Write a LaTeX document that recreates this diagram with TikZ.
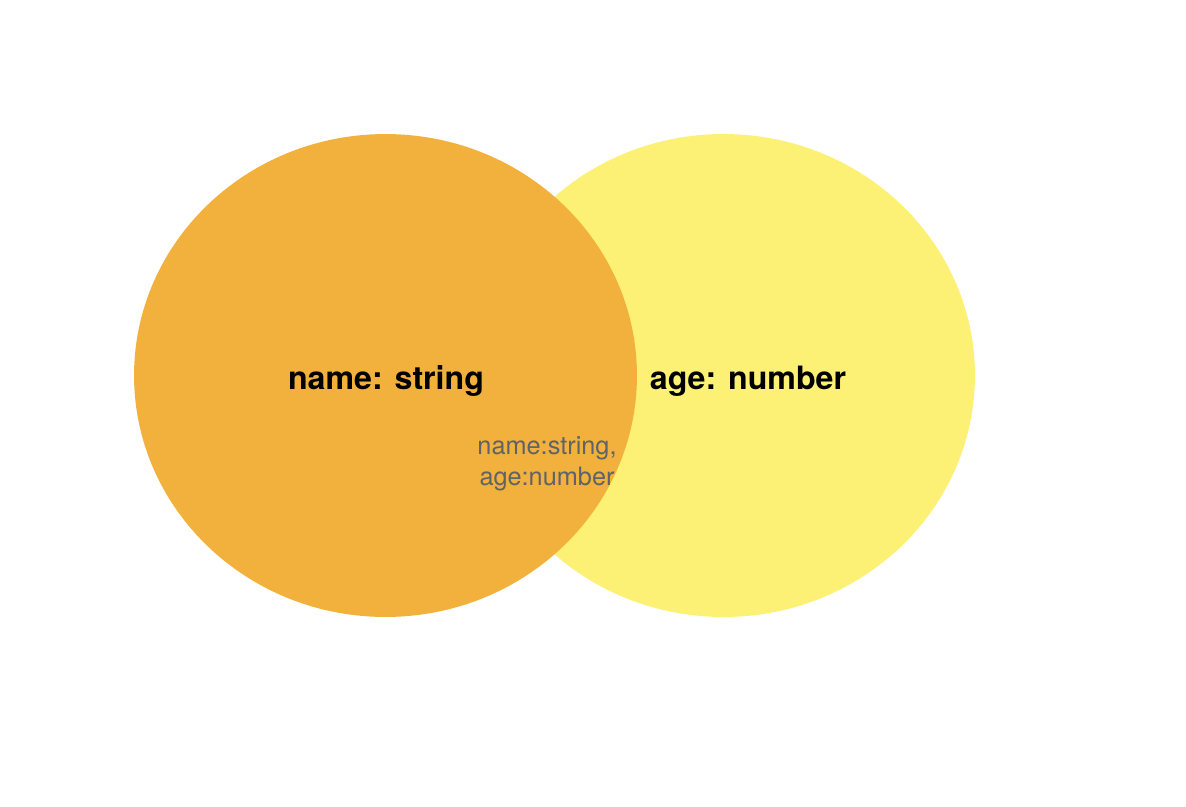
\documentclass[tikz,border=0pt]{standalone}
\usepackage{fontspec}
\setmainfont{TeX Gyre Heros}
\usetikzlibrary{shapes.geometric}

\definecolor{setorange}{HTML}{F2B13D}
\definecolor{setyellow}{HTML}{FCF174}
\definecolor{labelgray}{HTML}{5F6368}

\tikzset{%
  every set/.style={
    ellipse,
    draw=none,
    minimum width=10.06cm,
    minimum height=9.66cm,
    inner sep=0pt
  },
  set label/.style={
    font=\fontsize{18.3}{22}\selectfont\bfseries,
    text=black
  },
  shared label/.style={
    font=\fontsize{14.4}{17.5}\selectfont,
    text=labelgray,
    align=center
  },
}

\begin{document}
\begin{tikzpicture}[x=0.02cm, y=-0.02cm]

\useasboundingbox [fill=white] (0,0) rectangle (1186,806);

\node [every set, fill=setyellow] (age-set) at (723.5,375.5) {};
\node [every set, fill=setorange] (name-set) at (385.5,375.5) {};

\node [set label] (name-label) at (386,381) {name: string};
\node [set label] (age-label) at (748,381) {age: number};

\node [shared label] (both-label) at (547,464) {name:string,\\age:number};

\end{tikzpicture}
\end{document}
